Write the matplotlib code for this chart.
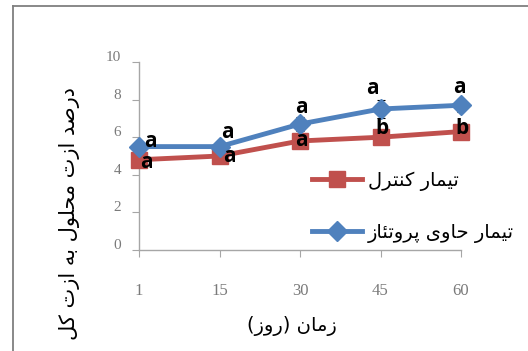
import matplotlib
matplotlib.use("Agg")
import matplotlib.pyplot as plt
import matplotlib.transforms as mtransforms
from matplotlib.lines import Line2D

# داده ها
days = ["1", "15", "30", "45", "60"]
control = [4.8, 5.0, 5.8, 6.0, 6.3]
protease = [5.5, 5.5, 6.7, 7.5, 7.7]
control_err = [0.15, 0.15, 0.15, 0.2, 0.2]
protease_err = [0.1, 0.1, 0.35, 0.5, 0.35]
control_letters = ["a", "a", "a", "b", "b"]
protease_letters = ["a", "a", "a", "a", "a"]
yticks = [0, 2, 4, 6, 8, 10]

ylabel = "درصد ازت محلول به ازت کل"
xlabel = "زمان (روز)"
control_name = "تیمار کنترل"
protease_name = "تیمار حاوی پروتئاز"

# حروف دوطرفه و یکطرفه با شکل های (تنها، پایانی، آغازی، میانی)
dual = {
    "ب": (0xFE8F, 0xFE90, 0xFE91, 0xFE92),
    "ت": (0xFE95, 0xFE96, 0xFE97, 0xFE98),
    "ح": (0xFEA1, 0xFEA2, 0xFEA3, 0xFEA4),
    "ص": (0xFEB9, 0xFEBA, 0xFEBB, 0xFEBC),
    "ل": (0xFEDD, 0xFEDE, 0xFEDF, 0xFEE0),
    "م": (0xFEE1, 0xFEE2, 0xFEE3, 0xFEE4),
    "ن": (0xFEE5, 0xFEE6, 0xFEE7, 0xFEE8),
    "ه": (0xFEE9, 0xFEEA, 0xFEEB, 0xFEEC),
    "ئ": (0xFE89, 0xFE8A, 0xFE8B, 0xFE8C),
    "پ": (0xFB56, 0xFB57, 0xFB58, 0xFB59),
    "ک": (0xFB8E, 0xFB8F, 0xFB90, 0xFB91),
    "ی": (0xFBFC, 0xFBFD, 0xFBFE, 0xFBFF),
}
right = {
    "ا": (0xFE8D, 0xFE8E),
    "د": (0xFEA9, 0xFEAA),
    "ر": (0xFEAD, 0xFEAE),
    "ز": (0xFEAF, 0xFEB0),
    "و": (0xFEED, 0xFEEE),
}


def shape_word(w):
    out = []
    for i, ch in enumerate(w):
        prev = w[i - 1] if i > 0 else ""
        nxt = w[i + 1] if i < len(w) - 1 else ""
        joins_prev = prev in dual
        joins_next = ch in dual and (nxt in dual or nxt in right)
        if ch in dual:
            f = dual[ch]
            if joins_prev and joins_next:
                out.append(chr(f[3]))
            elif joins_prev:
                out.append(chr(f[1]))
            elif joins_next:
                out.append(chr(f[2]))
            else:
                out.append(chr(f[0]))
        elif ch in right:
            f = right[ch]
            out.append(chr(f[1]) if joins_prev else chr(f[0]))
        else:
            out.append(ch)
    out = out[::-1]
    swap = {"(": ")", ")": "("}
    return "".join(swap.get(c, c) for c in out)


def fa(s):
    return " ".join(shape_word(w) for w in s.split(" ")[::-1])


W, H = 528, 351
fig = plt.figure(figsize=(W / 100, H / 100), dpi=100)
fig.patch.set_facecolor("white")

# کادر بیرونی (فقط بالا و چپ دیده می شود)
fig.add_artist(Line2D([13 / W, 13 / W], [-0.05, 1 - 6 / H], transform=fig.transFigure,
                      color="#7f7f7f", linewidth=1.3))
fig.add_artist(Line2D([13 / W, 1.05], [1 - 6 / H, 1 - 6 / H], transform=fig.transFigure,
                      color="#7f7f7f", linewidth=1.3))

ax = fig.add_axes([139 / W, 1 - 250 / H, (461 - 139) / W, (250 - 62) / H])
x = list(range(len(days)))

ax.errorbar(x, control, yerr=control_err, fmt="none", ecolor="black", elinewidth=0.8,
            capsize=3, capthick=0.8, zorder=2)
ax.errorbar(x, protease, yerr=protease_err, fmt="none", ecolor="black", elinewidth=0.8,
            capsize=3, capthick=0.8, zorder=2)
ax.plot(x, control, color="#C0504D", linewidth=3.5, marker="s", markersize=12,
        label=fa(control_name), clip_on=False, zorder=3)
ax.plot(x, protease, color="#4F81BD", linewidth=3.5, marker="D", markersize=10,
        label=fa(protease_name), clip_on=False, zorder=4)

# حروف مقایسه میانگین
c_off = [(5, -2), (7, 0), (1, 0), (1, 6), (1, 2)]
p_off = [(8, 4), (6, 10), (1, 12), (-6, 15), (-1, 13)]
for i in x:
    ax.annotate(control_letters[i], (x[i], control[i]), xytext=c_off[i], textcoords="offset points",
                ha="center", va="center", fontsize=15, fontweight="bold", family="Open Sans",
                color="black", zorder=6, annotation_clip=False)
    ax.annotate(protease_letters[i], (x[i], protease[i]), xytext=p_off[i], textcoords="offset points",
                ha="center", va="center", fontsize=15, fontweight="bold", family="Open Sans",
                color="black", zorder=6, annotation_clip=False)

ax.set_xlim(0, len(days) - 1)
ax.set_ylim(0, 10)
ax.set_xticks(x)
ax.set_xticklabels(days)
ax.set_yticks(yticks)
ax.set_yticklabels([str(v) for v in yticks])
for s in ["top", "right"]:
    ax.spines[s].set_visible(False)
for s in ["left", "bottom"]:
    ax.spines[s].set_color("#a6a6a6")
    ax.spines[s].set_linewidth(1)
ax.tick_params(axis="both", direction="out", length=5, color="#a6a6a6", labelcolor="#7a7a7a")
ax.tick_params(axis="x", pad=19)
ax.tick_params(axis="y", pad=8)
for lab in ax.get_xticklabels() + ax.get_yticklabels():
    lab.set_family("Liberation Serif")
    lab.set_fontsize(12)
for lab in ax.get_yticklabels():
    lab.set_fontsize(11)
    lab.set_transform(lab.get_transform() + mtransforms.ScaledTranslation(0, 6 / 100, fig.dpi_scale_trans))

fig.text(70 / W, 1 - 214 / H, fa(ylabel), rotation=90, ha="center", va="center",
         fontsize=15, family="DejaVu Sans", color="black")
fig.text(292 / W, 1 - 326 / H, fa(xlabel), ha="center", va="center",
         fontsize=14, family="DejaVu Sans", color="black")

fig.legend(loc="center left", bbox_to_anchor=(302 / W, 1 - 207 / H), frameon=False,
           prop={"family": "DejaVu Sans", "size": 14}, handlelength=2.6, labelspacing=1.65,
           handletextpad=0.3, borderpad=0)

fig.savefig("out.png", dpi=100)
